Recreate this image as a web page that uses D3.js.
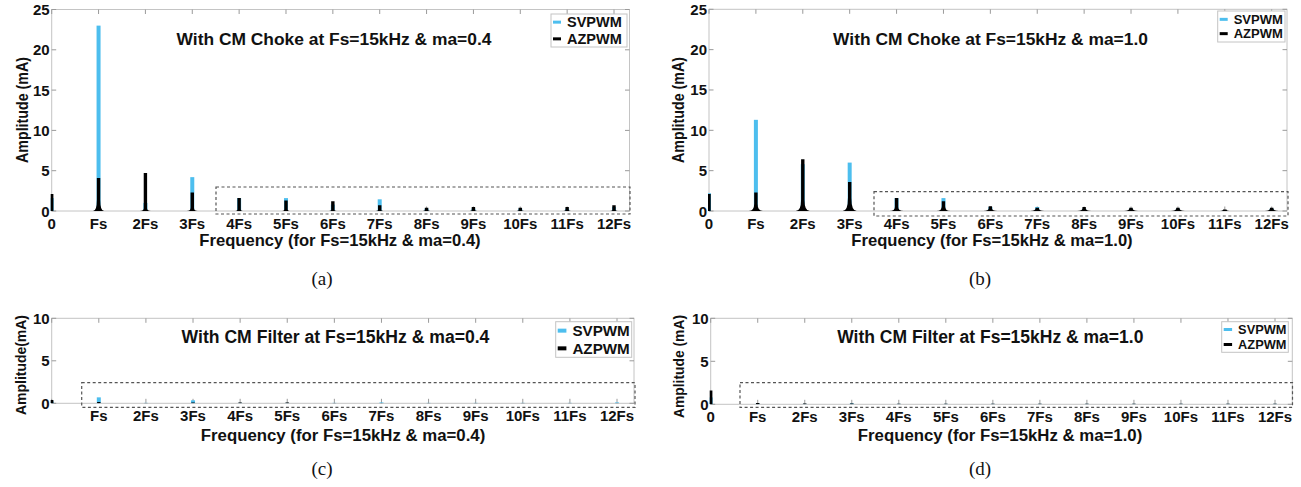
<!DOCTYPE html>
<html>
<head>
<meta charset="utf-8">
<script src="https://cdn.jsdelivr.net/npm/d3@7"></script>
<style>
  body { margin: 0; background: #fff; }
  svg text { font-family: "Liberation Sans", Arial, sans-serif; font-weight: bold; fill: #111; }
  svg text.cap { font-family: "Liberation Serif", "Times New Roman", serif; font-weight: normal; }
</style>
</head>
<body>
<svg id="fig" width="1301" height="487"></svg>
<script>
// harmonic index (multiples of Fs) and tick labels
const harmonics = [0, 1, 2, 3, 4, 5, 6, 7, 8, 9, 10, 11, 12];
const tickLabels = ["0", "Fs", "2Fs", "3Fs", "4Fs", "5Fs", "6Fs", "7Fs", "8Fs", "9Fs", "10Fs", "11Fs", "12Fs"];
const seriesNames = ["SVPWM", "AZPWM"];

// (a) CM choke, ma=0.4  (mA)
const chokeSv04 = [1.6, 23.0, 1.0, 4.2, 1.6, 1.6, 0.8, 1.45, 0.3, 0.3, 0.3, 0.3, 0.5];
const chokeAz04 = [2.1, 4.1, 4.7, 2.3, 1.6, 1.3, 1.2, 0.7, 0.4, 0.5, 0.4, 0.5, 0.7];
const chokeAzSkirt04 = [0, 1.4, 0.3, 0.4, 0.2, 0.2, 0.1, 0.1, 0.1, 0.1, 0.1, 0.1, 0.1];
// (b) CM choke, ma=1.0
const chokeSv10 = [2.2, 11.3, 5.8, 6.0, 1.6, 1.6, 0.5, 0.5, 0.3, 0.3, 0.3, 0.1, 0.3];
const chokeAz10 = [2.1, 2.3, 6.4, 3.6, 1.6, 1.2, 0.6, 0.4, 0.5, 0.4, 0.4, 0.2, 0.4];
const chokeAzSkirt10 = [0, 0.9, 1.4, 1.6, 0.5, 0.6, 0.3, 0.3, 0.3, 0.3, 0.3, 0.2, 0.3];
// (c) CM filter, ma=0.4
const filterSv04 = [0.2, 0.7, 0.05, 0.35, 0.05, 0.05, 0.05, 0.1, 0.05, 0.05, 0.05, 0.05, 0.1];
const filterAz04 = [0.4, 0.15, 0.05, 0.1, 0.1, 0.1, 0.05, 0.05, 0.05, 0.05, 0.05, 0.05, 0.05];
// (d) CM filter, ma=1.0
const filterSv10 = [0.8, 0.1, 0.05, 0.1, 0.05, 0.05, 0.05, 0.05, 0.05, 0.05, 0.05, 0.05, 0.05];
const filterAz10 = [1.6, 0.15, 0.1, 0.1, 0.05, 0.05, 0.05, 0.05, 0.05, 0.05, 0.05, 0.05, 0.05];

const svColor = "#4dbeee";
const azColor = "#000";
const svg = d3.select("#fig");

const panels = [
  { id: "a", sv: chokeSv04, az: chokeAz04, skirt: chokeAzSkirt04, skirtW: 5.5, yMax: 25, yTicks: [0, 5, 10, 15, 20, 25],
    x0: 51.7, x12: 614, right: 629.5, top: 9.5, bottom: 211,
    title: "With CM Choke at Fs=15kHz & ma=0.4", titleX: 334, titleY: 45, titleSize: 17.4,
    ylab: "Amplitude (mA)", ylabX: 27.5, ylabY: 110, ylabSize: 17, ylabLen: 106,
    xlab: "Frequency (for Fs=15kHz &  ma=0.4)", xlabX: 340, xlabY: 246, xlabSize: 16.6,
    zeroLabel: true, cap: "(a)", capX: 322, capY: 285,
    dash: [216, 187, 630, 214],
    leg: { x: 551, y: 14, w: 76, h: 33, size: 14.5, mark: 8, dy: 16.7, thick: 3 } },
  { id: "b", sv: chokeSv10, az: chokeAz10, skirt: chokeAzSkirt10, skirtW: 7, yMax: 25, yTicks: [0, 5, 10, 15, 20, 25],
    x0: 709, x12: 1271.7, right: 1287, top: 9.3, bottom: 211,
    title: "With CM Choke at Fs=15kHz & ma=1.0", titleX: 990.5, titleY: 45, titleSize: 17.4,
    ylab: "Amplitude (mA)", ylabX: 684, ylabY: 110, ylabSize: 17, ylabLen: 106,
    xlab: "Frequency (for Fs=15kHz & ma=1.0)", xlabX: 992, xlabY: 246, xlabSize: 16.6,
    zeroLabel: true, cap: "(b)", capX: 980, capY: 285,
    dash: [874, 191.7, 1288, 216],
    leg: { x: 1217.7, y: 11, w: 67.3, h: 31, size: 13, mark: 8, dy: 14.3, thick: 3 } },
  { id: "c", sv: filterSv04, az: filterAz04, skirt: null, yMax: 10, yTicks: [0, 5, 10],
    x0: 51.7, x12: 617, right: 634, top: 318.3, bottom: 403.3,
    title: "With CM Filter at Fs=15kHz & ma=0.4", titleX: 335.5, titleY: 342.5, titleSize: 17.6,
    ylab: "Amplitude(mA)", ylabX: 25.5, ylabY: 365, ylabSize: 14, ylabLen: 100,
    xlab: "Frequency (for Fs=15kHz & ma=0.4)", xlabX: 343, xlabY: 441, xlabSize: 16.8,
    zeroLabel: false, cap: "(c)", capX: 322, capY: 475,
    dash: [81.7, 382.7, 635, 407.3],
    leg: { x: 555.7, y: 321.7, w: 76, h: 35.6, size: 15.2, mark: 8.7, dy: 17.7, thick: 4 } },
  { id: "d", sv: filterSv10, az: filterAz10, skirt: null, yMax: 10, yTicks: [0, 5, 10],
    x0: 710.7, x12: 1275, right: 1292.3, top: 318.3, bottom: 404.3,
    title: "With CM Filter at Fs=15kHz & ma=1.0", titleX: 990.3, titleY: 342.5, titleSize: 17.5,
    ylab: "Amplitude (mA)", ylabX: 683.5, ylabY: 366.5, ylabSize: 13.8, ylabLen: 103,
    xlab: "Frequency (for Fs=15kHz & ma=1.0)", xlabX: 1000, xlabY: 441, xlabSize: 16.8,
    zeroLabel: true, cap: "(d)", capX: 980, capY: 475,
    dash: [740, 382.7, 1292.5, 407.3],
    leg: { x: 1221.7, y: 321.7, w: 66.6, h: 30.6, size: 12.8, mark: 8.4, dy: 15, thick: 3 } }
];

panels.forEach(drawPanel);

function drawPanel(p) {
  const step = (p.x12 - p.x0) / 12;
  const xMax = (p.right - p.x0) / step;
  const x = d3.scaleLinear().domain([0, xMax]).range([p.x0, p.right]);
  const y = d3.scaleLinear().domain([0, p.yMax]).range([p.bottom, p.top]);
  const g = svg.append("g");

  // clip a hair left of the axis so the 0 spike shows like in MATLAB
  g.append("clipPath").attr("id", "clip-" + p.id)
    .append("rect").attr("x", p.x0 - 1).attr("y", p.top)
    .attr("width", p.right - p.x0 + 1).attr("height", p.bottom - p.top);

  // box + inner ticks (MATLAB style)
  g.append("rect")
    .attr("x", p.x0).attr("y", p.top)
    .attr("width", p.right - p.x0).attr("height", p.bottom - p.top)
    .attr("fill", "none").attr("stroke", "#c4c4c4").attr("stroke-width", 1);

  const tk = g.append("g").attr("stroke", "#9a9a9a").attr("stroke-width", 1);
  harmonics.forEach(h => {
    tk.append("line").attr("x1", x(h)).attr("x2", x(h)).attr("y1", p.top).attr("y2", p.top + 4.5);
    tk.append("line").attr("x1", x(h)).attr("x2", x(h)).attr("y1", p.bottom).attr("y2", p.bottom - 4.5);
  });
  p.yTicks.forEach(v => {
    tk.append("line").attr("x1", p.x0).attr("x2", p.x0 + 4.5).attr("y1", y(v)).attr("y2", y(v));
    tk.append("line").attr("x1", p.right).attr("x2", p.right - 4.5).attr("y1", y(v)).attr("y2", y(v));
  });

  // tick labels
  harmonics.forEach((h, i) => {
    if (i === 0 && !p.zeroLabel) return;
    g.append("text").attr("x", x(h)).attr("y", p.bottom + 18)
      .attr("text-anchor", "middle").style("font-size", "15px").text(tickLabels[i]);
  });
  p.yTicks.forEach(v => {
    g.append("text").attr("x", p.x0 - 2).attr("y", y(v) + 5.5)
      .attr("text-anchor", "end").style("font-size", "15px").text(v);
  });

  // spectra
  const plot = g.append("g").attr("clip-path", `url(#clip-${p.id})`);
  plot.append("g").selectAll("rect").data(harmonics).join("rect")
    .attr("x", h => x(h) - 2).attr("width", 4)
    .attr("y", h => y(p.sv[h])).attr("height", h => p.bottom - y(p.sv[h]))
    .attr("fill", svColor);

  plot.append("g").selectAll("path").data(harmonics).join("path")
    .attr("fill", azColor)
    .attr("d", h => {
      const cx = x(h), top = y(p.az[h]), hw = 1.7;
      if (!p.skirt) {
        return `M${cx - hw},${p.bottom} L${cx - hw},${top} L${cx + hw},${top} L${cx + hw},${p.bottom} Z`;
      }
      const sk = y(Math.min(p.skirt[h], p.az[h]));
      const wb = p.skirtW;
      return `M${cx - wb},${p.bottom} Q${cx - hw},${p.bottom} ${cx - hw},${sk} L${cx - hw},${top} ` +
        `L${cx + hw},${top} L${cx + hw},${sk} Q${cx + hw},${p.bottom} ${cx + wb},${p.bottom} Z`;
    });

  // dashed zoom region
  const [dx1, dy1, dx2, dy2] = p.dash;
  g.append("rect").attr("x", dx1).attr("y", dy1)
    .attr("width", dx2 - dx1).attr("height", dy2 - dy1)
    .attr("fill", "none").attr("stroke", "#555").attr("stroke-width", 1.2)
    .attr("stroke-dasharray", "3,2.5");

  // title
  g.append("text").attr("x", p.titleX).attr("y", p.titleY)
    .attr("text-anchor", "middle").style("font-size", p.titleSize + "px").text(p.title);

  // axis labels
  g.append("text")
    .attr("transform", `translate(${p.ylabX},${p.ylabY}) rotate(-90)`)
    .attr("text-anchor", "middle").style("font-size", p.ylabSize + "px")
    .attr("textLength", p.ylabLen).attr("lengthAdjust", "spacingAndGlyphs")
    .text(p.ylab);
  g.append("text").attr("x", p.xlabX).attr("y", p.xlabY)
    .attr("text-anchor", "middle").style("font-size", p.xlabSize + "px").text(p.xlab);

  // caption
  g.append("text").attr("class", "cap").attr("x", p.capX).attr("y", p.capY)
    .attr("text-anchor", "middle").style("font-size", "19px").text(p.cap);

  // legend
  const L = p.leg;
  const lg = g.append("g");
  lg.append("rect").attr("x", L.x).attr("y", L.y).attr("width", L.w).attr("height", L.h)
    .attr("fill", "#fff").attr("stroke", "#c4c4c4").attr("stroke-width", 1);
  seriesNames.forEach((name, i) => {
    const cy = L.y + L.h / 2 + (i - 0.5) * L.dy;
    lg.append("line").attr("x1", L.x + 2).attr("x2", L.x + 2 + L.mark)
      .attr("y1", cy).attr("y2", cy)
      .attr("stroke", i === 0 ? svColor : azColor).attr("stroke-width", L.thick);
    lg.append("text").attr("x", L.x + 2 + L.mark + 6).attr("y", cy + L.size * 0.36)
      .style("font-size", L.size + "px").text(name);
  });
}
</script>
</body>
</html>
